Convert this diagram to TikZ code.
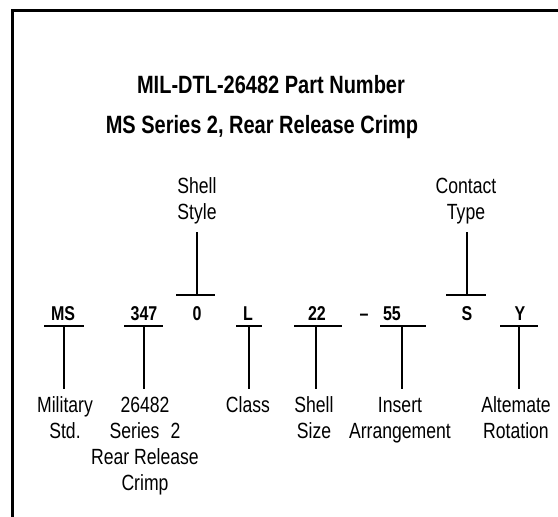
\documentclass[tikz,border=0pt]{standalone}
\usepackage{fontspec}
\setmainfont{Liberation Sans}[FakeStretch=0.8]
\usetikzlibrary{positioning}

\begin{document}
\begin{tikzpicture}[
  x=0.5pt, y=-0.5pt,
  title/.style={font=\bfseries\fontsize{12.5}{15}\selectfont, inner sep=0pt},
  code/.style={font=\bfseries\fontsize{10}{12}\selectfont, anchor=base, inner sep=0pt},
  lbl/.style={font=\fontsize{11}{13}\selectfont, align=center, inner sep=0pt, outer ysep=4pt},
  bar/.style={line width=1.4pt},
  stem/.style={line width=1pt},
  frame/.style={line width=1.5pt}
]
\useasboundingbox (0,0) rectangle (558,517);
\draw[frame] (12,517) -- (12,11) -- (558,11);

\node[title] (ttl) at (271,85) {MIL-DTL-26482 Part Number};
\node[title] (sub) at (262,127) {MS Series 2, Rear Release Crimp};

% part number fields
\node[code] (ms)    at (63,321)  {MS};
\node[code] (dwg)   at (144,321) {347};
\node[code] (style) at (197,321) {0};
\node[code] (cls)   at (248,321) {L};
\node[code] (size)  at (317,321) {22};
\node[code] (dash)  at (364,321) {--};
\node[code] (arr)   at (392,321) {55};
\node[code] (cont)  at (467,321) {S};
\node[code] (rot)   at (520,321) {Y};

% labels below
\node[lbl, anchor=north] (mil)   at (65,389)  {Military\\Std.};
\node[lbl, anchor=north] (ser)   at (145,389) {26482\\Series\enspace2\\Rear Release\\Crimp};
\node[lbl, anchor=north] (clsl)  at (248,389) {Class};
\node[lbl, anchor=north] (sizel) at (314,389) {Shell\\Size};
\node[lbl, anchor=north] (arrl)  at (400,389) {Insert\\Arrangement};
\node[lbl, anchor=north] (rotl)  at (516,389) {Altemate\\Rotation};

% labels above
\node[lbl, anchor=south] (stylel) at (197,232) {Shell\\Style};
\node[lbl, anchor=south] (contl)  at (466,232) {Contact\\Type};

% bars and stems
\coordinate (msb)    at (64,326);
\coordinate (dwgb)   at (144,326);
\coordinate (clsb)   at (249,326);
\coordinate (sizeb)  at (316,326);
\coordinate (arrb)   at (402,326);
\coordinate (rotb)   at (519,326);
\coordinate (styleb) at (197,295);
\coordinate (contb)  at (467,295);

\draw[bar] (msb) ++(-20,0) -- ++(40,0);
\draw[bar] (dwgb) ++(-20,0) -- ++(39,0);
\draw[bar] (clsb) ++(-13,0) -- ++(26,0);
\draw[bar] (sizeb) ++(-22,0) -- ++(48,0);
\draw[bar] (arrb) ++(-22,0) -- ++(46,0);
\draw[bar] (rotb) ++(-19,0) -- ++(38,0);
\draw[bar] (styleb) ++(-21,0) -- ++(39,0);
\draw[bar] (contb) ++(-21,0) -- ++(40,0);

\draw[stem] (msb) -- (msb |- mil.north);
\draw[stem] (dwgb) -- (dwgb |- ser.north);
\draw[stem] (clsb) -- (clsb |- clsl.north);
\draw[stem] (sizeb) -- (sizeb |- sizel.north);
\draw[stem] (arrb) -- (arrb |- arrl.north);
\draw[stem] (rotb) -- (rotb |- rotl.north);
\draw[stem] (styleb) -- (styleb |- stylel.south);
\draw[stem] (contb) -- (contb |- contl.south);
\end{tikzpicture}
\end{document}
